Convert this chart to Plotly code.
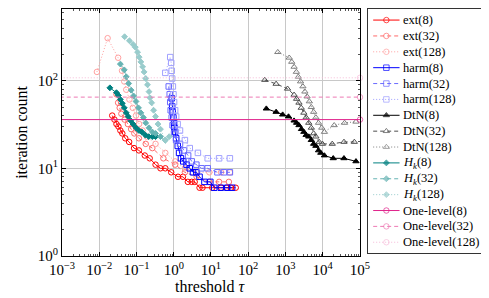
import plotly.graph_objects as go

# ---------------- data ----------------
ext8_x = [0.0223, 0.0256, 0.0290, 0.0327, 0.0369, 0.0416, 0.0499, 0.0635, 0.0859, 0.116, 0.167, 0.226,
          0.325, 0.440, 0.594, 0.855, 1.30, 1.77, 2.39, 3.04, 3.65, 4.93, 5.91, 10.8, 18.6, 26.8, 34.1, 46.1]
ext8_y = [40, 36, 32, 30, 27, 25, 22, 20, 17, 16, 14, 13, 11, 10, 10, 9, 8, 8, 7, 7, 7, 6, 6, 6, 6, 6, 6, 6]

ext32_x = [0.029, 0.0321, 0.0354, 0.0392, 0.0479, 0.0587, 0.0718, 0.0875, 0.116, 0.177, 0.266, 0.527,
           1.09, 1.99, 4.11, 9.02, 16.5, 30.2]
ext32_y = [70, 56, 49, 42, 36, 32, 28, 25, 22, 19, 17, 13, 11, 9, 8, 7, 7, 7]

ext128_x = [0.00865, 0.0168, 0.0321, 0.0409, 0.047, 0.053, 0.0647, 0.0794, 0.097, 0.118, 0.146, 0.189,
            0.325, 0.594, 1.09, 1.99, 4.11, 9.02, 18.6, 32.1]
ext128_y = [126, 306, 183, 130, 98, 79, 61, 49, 40, 32, 27, 23, 19, 15, 12, 10, 9, 9, 9, 9]

harm8_x = [0.881, 0.908, 0.935, 0.982, 1.02, 1.04, 1.09, 1.16, 1.28, 1.39, 1.56, 1.80, 2.21, 2.69,
           3.29, 4.04, 4.93, 6.67, 9.59, 12.2, 18.3, 27.3, 36.9]
harm8_y = [63, 51, 44, 38, 33, 29, 26, 22, 18, 15, 13, 12, 11, 10, 9, 9, 8, 7, 7, 6, 6, 6, 6]

harm32_x = [0.734, 0.780, 0.805, 0.829, 0.881, 0.935, 1.02, 1.16, 1.47, 1.87, 2.43, 3.04, 4.04, 5.56,
            8.15, 14.9, 22.3, 32.1]
harm32_y = [86, 70, 57, 46, 38, 31, 25, 21, 19, 16, 14, 12, 11, 10, 10, 9, 9, 9]

harm128_x = [0.594, 0.805, 0.855, 0.881, 0.908, 0.946, 0.982, 1.02, 1.09, 1.16, 1.27, 1.47, 1.99, 2.69,
             4.45, 8.15, 16.5, 32.1]
harm128_y = [123, 186, 160, 130, 106, 86, 70, 57, 46, 39, 32, 27, 21, 17, 15, 13, 13, 13]

dtn8_x = [306, 560, 839, 1206, 1702, 1991, 2302, 2692, 3113, 3581, 4214, 4932, 5702, 6548, 7709, 8865,
          11090, 19100, 37150, 78000]
dtn8_y = [48, 44, 41, 39, 35, 33, 31, 28, 26, 24, 23, 21, 19, 18, 16, 15, 14, 13, 13, 12]

dtn32_x = [278, 560, 1135, 1702, 1991, 2302, 2648, 3113, 3581, 4214, 4932, 5702, 6548, 8000, 9820,
           18000, 37150, 70500]
dtn32_y = [102, 92, 81, 69, 62, 56, 49, 43, 38, 33, 29, 25, 23, 20, 19, 19, 20, 20]

dtn128_x = [621, 1259, 1472, 1702, 1955, 2208, 2536, 2933, 3311, 3803, 4368, 4932, 5702, 6548, 7709,
            9410, 11090, 20300, 38500, 78000]
dtn128_y = [212, 183, 164, 144, 126, 111, 98, 86, 75, 66, 58, 50, 44, 38, 33, 29, 26, 31, 33, 34]

hk8_x = [0.0193, 0.029, 0.0327, 0.0369, 0.0416, 0.047, 0.053, 0.0598, 0.0697, 0.0809, 0.097, 0.116,
         0.139, 0.172, 0.213, 0.266, 0.325]
hk8_y = [83, 73, 68, 61, 55, 49, 43, 39, 35, 32, 29, 27, 26, 24, 23, 23, 23]

hk32_x = [0.0369, 0.047, 0.053, 0.0616, 0.0718, 0.0834, 0.097, 0.113, 0.131, 0.153, 0.177, 0.217,
          0.266, 0.325, 0.440, 0.594]
hk32_y = [155, 133, 111, 93, 78, 67, 58, 49, 43, 38, 33, 29, 26, 25, 23, 21]

hk128_x = [0.0479, 0.0647, 0.0809, 0.0931, 0.107, 0.118, 0.131, 0.146, 0.160, 0.177, 0.197, 0.217,
           0.230, 0.255, 0.288, 0.325, 0.378, 0.440, 0.594, 0.757]
hk128_y = [318, 286, 260, 241, 212, 186, 164, 144, 126, 106, 90, 75, 64, 56, 46, 39, 32, 28, 21, 23]

onelevel_x = [1e-4, 1e5]
onelevel8_y = [36, 36]
onelevel32_y = [65, 65]
onelevel128_y = [108, 108]

x_tickvals = [1e-3, 1e-2, 1e-1, 1e0, 1e1, 1e2, 1e3, 1e4, 1e5]
x_ticktext = ["10<sup>\u22123</sup>", "10<sup>\u22122</sup>", "10<sup>\u22121</sup>", "10<sup>0</sup>",
              "10<sup>1</sup>", "10<sup>2</sup>", "10<sup>3</sup>", "10<sup>4</sup>", "10<sup>5</sup>"]
y_tickvals = [1, 10, 100]
y_ticktext = ["10<sup>0</sup>", "10<sup>1</sup>", "10<sup>2</sup>"]

# ---------------- styles ----------------
DASHED = "4px,3px"
DOTTED = "1px,2px"
FONT = "Liberation Serif, Times New Roman, serif"

series = [
    ("ext(8)", ext8_x, ext8_y, "#ff0000", "solid", "circle-open", 5.5),
    ("ext(32)", ext32_x, ext32_y, "#ff6a6a", DASHED, "circle-open", 5.5),
    ("ext(128)", ext128_x, ext128_y, "#ffa0a0", DOTTED, "circle-open", 5.5),
    ("harm(8)", harm8_x, harm8_y, "#0000ff", "solid", "square-open", 5.5),
    ("harm(32)", harm32_x, harm32_y, "#6a6aff", DASHED, "square-open", 5.5),
    ("harm(128)", harm128_x, harm128_y, "#a0a0ff", DOTTED, "square-open", 5.5),
    ("DtN(8)", dtn8_x, dtn8_y, "#000000", "solid", "triangle-up", 5.5),
    ("DtN(32)", dtn32_x, dtn32_y, "#4d4d4d", DASHED, "triangle-up-open", 5.5),
    ("DtN(128)", dtn128_x, dtn128_y, "#808080", DOTTED, "triangle-up-open", 5.5),
    ("<i>H</i><sub><i>k</i></sub>(8)", hk8_x, hk8_y, "#008080", "solid", "diamond", 4.5),
    ("<i>H</i><sub><i>k</i></sub>(32)", hk32_x, hk32_y, "#66b3b3", DASHED, "diamond", 4.5),
    ("<i>H</i><sub><i>k</i></sub>(128)", hk128_x, hk128_y, "#99cccc", DOTTED, "diamond", 4.5),
    ("One-level(8)", onelevel_x, onelevel8_y, "#e0248c", "solid", "circle-open", 5.5),
    ("One-level(32)", onelevel_x, onelevel32_y, "#ee7ab4", DASHED, "circle-open", 5.5),
    ("One-level(128)", onelevel_x, onelevel128_y, "#f6bad8", DOTTED, "circle-open", 5.5),
]

# ---------------- layout geometry (pixels) ----------------
W, H = 489, 298
ML, MR, MT, MB = 54, 0, 1, 2
PLOT_W, PLOT_BOTTOM = 305, 253
paper_w = W - ML - MR
paper_h = H - MT - MB


def px_x(px):
    return (px - ML) / paper_w


def px_y(py):
    return (H - MB - py) / paper_h


fig = go.Figure()

for name, xs, ys, color, dash, sym, size in series:
    is_const = name.startswith("One-level")
    sizes = [0, size] if is_const else size
    fig.add_trace(go.Scatter(
        x=xs, y=ys, mode="lines+markers", name=name, showlegend=False,
        line=dict(color=color, width=1, dash=dash),
        marker=dict(symbol=sym, size=sizes, color=color, line=dict(color=color, width=1)),
        cliponaxis=not is_const, xaxis="x", yaxis="y",
    ))

# ---------------- hand-built legend (in a pixel-like overlay axis) ----------------
LEG_X0, LEG_X1, LEG_Y0, LEG_Y1 = 367, 488, 1, 250
ROW0, ROWSTEP = 12.3, 16.2
annotations = []
for i, (name, xs, ys, color, dash, sym, size) in enumerate(series):
    ry = ROW0 + ROWSTEP * i
    fig.add_trace(go.Scatter(
        x=[372.5, 386, 399.5], y=[ry, ry, ry], mode="lines+markers", showlegend=False,
        line=dict(color=color, width=1, dash=dash),
        marker=dict(symbol=sym, size=[0, size, 0], color=color, line=dict(color=color, width=1)),
        xaxis="x2", yaxis="y2", hoverinfo="skip",
    ))
    annotations.append(dict(x=401, y=ry, xref="x2", yref="y2", text=name, showarrow=False,
                            xanchor="left", yanchor="middle",
                            font=dict(family=FONT, size=12.5, color="black")))

# x-axis title placed as an annotation so it sits where the reference puts it
annotations.append(dict(x=px_x(ML + PLOT_W / 2), y=px_y(284), xref="paper", yref="paper",
                        text="threshold <i>\u03c4</i>", showarrow=False, xanchor="center", yanchor="middle",
                        font=dict(family=FONT, size=16, color="black")))

axis_common = dict(showline=True, linecolor="black", linewidth=1, mirror="allticks",
                   ticks="inside", ticklen=4, tickcolor="black", tickwidth=0.8,
                   showgrid=True, gridcolor="#c8c8c8", gridwidth=0.8, zeroline=False,
                   tickfont=dict(family=FONT, size=15, color="black"),
                   minor=dict(ticks="inside", ticklen=2, tickcolor="#555555", tickwidth=0.6,
                              showgrid=False, dtick="D1"))

fig.update_layout(
    width=W, height=H, margin=dict(l=ML, r=MR, t=MT, b=MB),
    paper_bgcolor="white", plot_bgcolor="white",
    font=dict(family=FONT, size=13, color="black"),
    xaxis=dict(type="log", range=[-3, 5], domain=[0, px_x(ML + PLOT_W)], anchor="y",
               tickvals=x_tickvals, ticktext=x_ticktext,
               **axis_common),
    yaxis=dict(type="log", range=[0, 2.819], domain=[px_y(PLOT_BOTTOM), 1], anchor="x",
               tickvals=y_tickvals, ticktext=y_ticktext,
               title=dict(text="iteration count", font=dict(family=FONT, size=16), standoff=6),
               **axis_common),
    xaxis2=dict(domain=[px_x(LEG_X0), px_x(LEG_X1)], range=[LEG_X0, LEG_X1],
                anchor="y2", showline=True, mirror=True, linecolor="#333333", linewidth=1,
                showticklabels=False, ticks="", showgrid=False, zeroline=False, fixedrange=True),
    yaxis2=dict(domain=[px_y(LEG_Y1), px_y(LEG_Y0)], range=[LEG_Y1, LEG_Y0],
                anchor="x2", showline=True, mirror=True, linecolor="#333333", linewidth=1,
                showticklabels=False, ticks="", showgrid=False, zeroline=False, fixedrange=True),
    annotations=annotations,
    showlegend=False,
)

fig.write_html("out.html")
